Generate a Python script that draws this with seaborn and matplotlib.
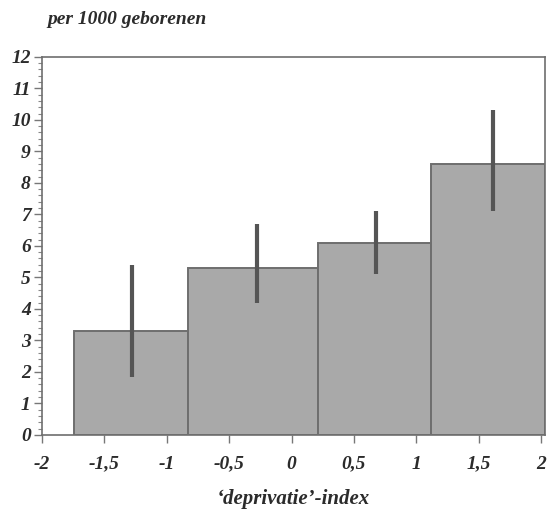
import matplotlib.pyplot as plt
import numpy as np
import seaborn as sns
from matplotlib.ticker import MultipleLocator, FixedLocator

# bar edges along the deprivation index and rate per 1000 births
BIN_EDGES = [-1.74, -0.83, 0.21, 1.12, 2.03]
RATES = [3.3, 5.3, 6.1, 8.6]

# confidence intervals (drawn as vertical lines)
CI_X = [-1.28, -0.28, 0.68, 1.61]
CI_LOW = [1.85, 4.2, 5.1, 7.1]
CI_HIGH = [5.4, 6.7, 7.1, 10.3]

X_TICKS = [-2, -1.5, -1, -0.5, 0, 0.5, 1, 1.5, 2]
X_TICK_LABELS = ["-2", "-1,5", "-1", "-0,5", "0", "0,5", "1", "1,5", "2"]
Y_TICKS = list(range(0, 13))

sns.set_theme(style="ticks")
plt.rcParams["font.family"] = ["Liberation Serif", "DejaVu Serif"]
plt.rcParams["font.style"] = "italic"

TEXT = "#2b2b2b"
BAR = "#a9a9a9"
EDGE = "#6e6e6e"

fig = plt.figure(figsize=(5.5, 5.22), dpi=100)
ax = fig.add_axes([0.076, 0.167, 0.915, 0.724])

centers = [(a + b) / 2 for a, b in zip(BIN_EDGES[:-1], BIN_EDGES[1:])]
sns.histplot(
    x=centers,
    weights=RATES,
    bins=BIN_EDGES,
    color=BAR,
    edgecolor=EDGE,
    linewidth=1.4,
    alpha=1,
    ax=ax,
)
ax.vlines(CI_X, CI_LOW, CI_HIGH, color="#555555", linewidth=3)

ax.set_xlim(-2, 2.03)
ax.set_ylim(0, 12)
ax.xaxis.set_major_locator(FixedLocator(X_TICKS))
ax.set_xticklabels(X_TICK_LABELS, fontstyle="italic", fontweight="bold")
ax.set_yticks(Y_TICKS)
ax.set_yticklabels([str(v) for v in Y_TICKS], fontstyle="italic", fontweight="bold")
ax.yaxis.set_minor_locator(MultipleLocator(0.2))

for side in ["top", "right", "left", "bottom"]:
    ax.spines[side].set_visible(True)
    ax.spines[side].set_color("#6e6e6e")
    ax.spines[side].set_linewidth(1.2)

ax.tick_params(axis="both", which="major", length=6, width=1, color="#777777",
               labelcolor=TEXT, labelsize=14)
ax.tick_params(axis="x", which="major", pad=9)
ax.tick_params(axis="y", which="major", pad=2)
ax.tick_params(axis="y", which="minor", length=3, width=0.8, color="#888888")

ax.set_ylabel("")
ax.set_xlabel("\u2018deprivatie\u2019-index", fontsize=15, fontstyle="italic",
              fontweight="bold", color=TEXT, labelpad=12)
fig.text(0.087, 0.963, "per 1000 geborenen", fontsize=14, fontstyle="italic",
         fontweight="bold", color=TEXT, ha="left", va="center")

fig.savefig("out.png", dpi=100)
